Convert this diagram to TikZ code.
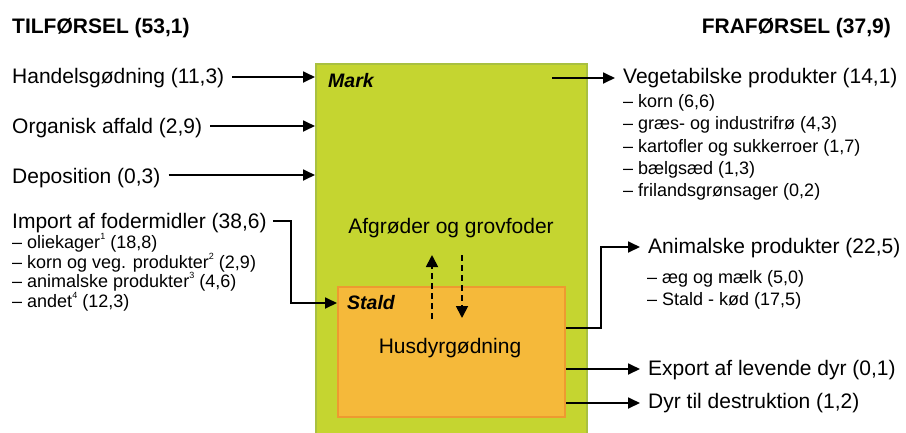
\documentclass[tikz,border=0pt]{standalone}
\usepackage{fontspec}
\setmainfont{Liberation Sans}
\usetikzlibrary{arrows.meta}
\definecolor{markgreen}{HTML}{C5D530}
\definecolor{markedge}{HTML}{A9C040}
\definecolor{staldfill}{HTML}{F5B93A}
\definecolor{staldedge}{HTML}{EE9A30}
\newcommand{\fnmark}[1]{\raisebox{0.5em}{\fontsize{9}{9}\selectfont #1}}
\begin{document}
\begin{tikzpicture}[x=1pt,y=-1pt,
  big/.style={font=\fontsize{21}{25}\selectfont, inner sep=0, anchor=base west},
  small/.style={font=\fontsize{18}{22}\selectfont, inner sep=0, anchor=base west},
  head/.style={font=\bfseries\fontsize{21}{25}\selectfont, inner sep=0},
  area/.style={font=\bfseries\itshape\fontsize{19.5}{23}\selectfont, inner sep=0, anchor=base west},
  flow/.style={line width=1.8pt, -{Triangle[length=12pt,width=11pt]}},
  back/.style={dash pattern=on 6pt off 4pt, line width=1.8pt, -{Triangle[length=12pt,width=12pt]}}]
\useasboundingbox (0,0) rectangle (906,432);
\fill[white] (0,0) rectangle (906,432);
% boxes
\node[draw=markedge, fill=markgreen, line width=1.5pt, minimum width=271pt, minimum height=380pt, anchor=north west, inner sep=0] (mark) at (315,63) {};
\node[draw=staldedge, fill=staldfill, line width=2pt, minimum width=227pt, minimum height=130pt, anchor=north west, inner sep=0] (stald) at (337,286) {};
\node[area] (marklbl) at (328,87) {Mark};
\node[area] (staldlbl) at (347,309) {Stald};
\node[big, anchor=base] (afg) at (451,233) {Afgrøder og grovfoder};
\node[big, anchor=base] (hus) at (450,353) {Husdyrgødning};
% headings
\node[head, anchor=base west] (tilf) at (12,33) {TILFØRSEL (53,1)};
\node[head, anchor=base east] (fraf) at (891,33) {FRAFØRSEL (37,9)};
% inputs
\node[big] (hand) at (12,83) {Handelsgødning (11,3)};
\node[big] (org) at (12,133) {Organisk affald (2,9)};
\node[big] (dep) at (12,183) {Deposition (0,3)};
\node[big] (imp) at (12,228) {Import af fodermidler (38,6)};
\node[small] (i1) at (12,248) {– oliekager\fnmark{1} (18,8)};
\node[small] (i2) at (12,268) {– korn og veg. produkter\fnmark{2} (2,9)};
\node[small] (i3) at (12,287) {– animalske produkter\fnmark{3} (4,6)};
\node[small] (i4) at (12,307) {– andet\fnmark{4} (12,3)};
% outputs
\node[big] (veg) at (623,83) {Vegetabilske produkter (14,1)};
\node[small] (v1) at (623,107) {– korn (6,6)};
\node[small] (v2) at (623,129) {– græs- og industrifrø (4,3)};
\node[small] (v3) at (623,152) {– kartofler og sukkerroer (1,7)};
\node[small] (v4) at (623,174) {– bælgsæd (1,3)};
\node[small] (v5) at (623,196) {– frilandsgrønsager (0,2)};
\node[big] (anim) at (648,253) {Animalske produkter (22,5)};
\node[small] (a1) at (647,283) {– æg og mælk (5,0)};
\node[small] (a2) at (647,305) {– Stald - kød (17,5)};
\node[big] (exp) at (648,375) {Export af levende dyr (0,1)};
\node[big] (dyr) at (648,408) {Dyr til destruktion (1,2)};
% input connectors
\draw[flow, shorten <=8pt] (hand.east |- 0,77) -- (mark.west |- 0,77);
\draw[flow, shorten <=8pt] (org.east |- 0,126) -- (mark.west |- 0,126);
\draw[flow, shorten <=8pt] (dep.east |- 0,175) -- (mark.west |- 0,175);
\coordinate (impbend) at (291,303);
\draw[flow, shorten <=6pt] (imp.east |- 0,221) -| (impbend) -- (stald.west |- impbend);
% output connectors
\coordinate (vegstart) at (552,78);
\draw[flow, shorten >=8pt] (vegstart) -- (veg.west |- vegstart);
\coordinate (animbend) at (601,247);
\draw[flow, shorten >=8pt] (stald.east |- 0,328) -| (animbend) -- (anim.west |- animbend);
\draw[flow, shorten >=8pt] (stald.east |- 0,369) -- (exp.west |- 0,369);
\draw[flow, shorten >=8pt] (stald.east |- 0,403) -- (dyr.west |- 0,403);
% internal flows
\coordinate (upfrom) at (432,319);
\coordinate (upto) at (432,255);
\coordinate (downfrom) at (462,255);
\coordinate (downto) at (462,318);
\draw[back] (upfrom) -- (upto);
\draw[back] (downfrom) -- (downto);
\end{tikzpicture}
\end{document}
